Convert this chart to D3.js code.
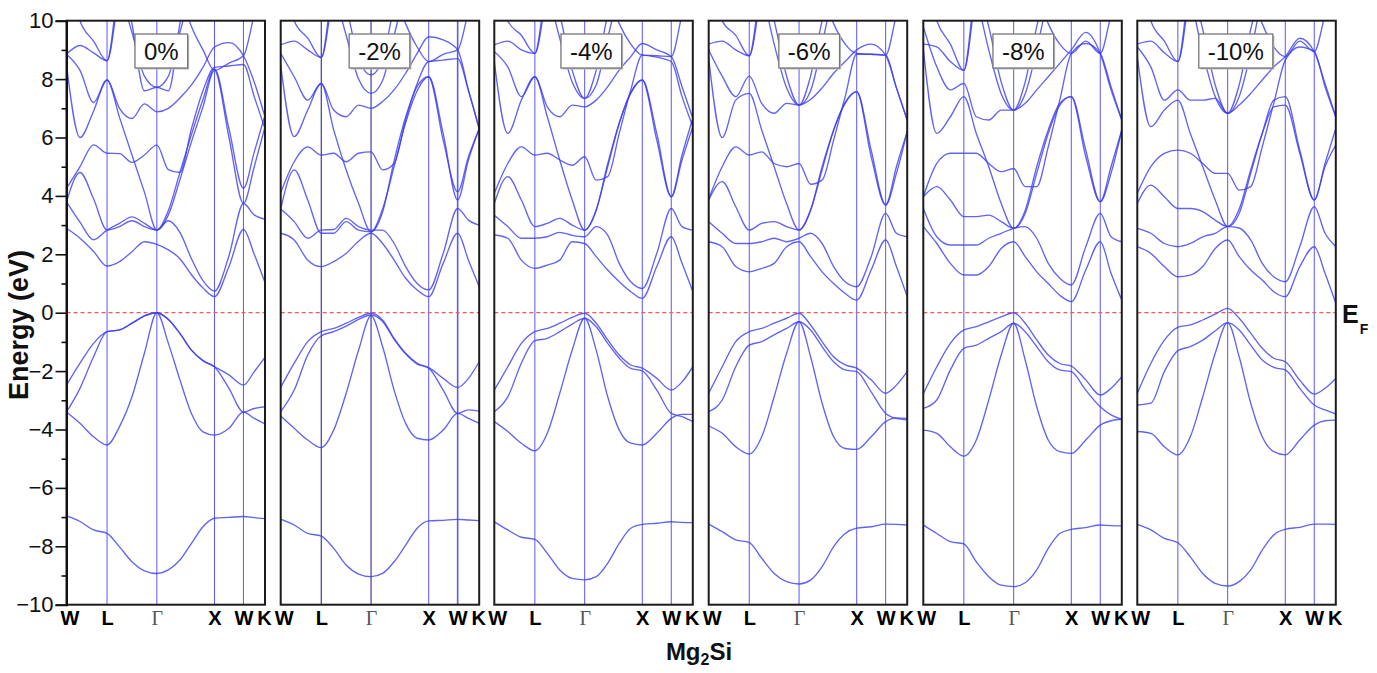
<!DOCTYPE html>
<html><head><meta charset="utf-8">
<script src="https://cdn.jsdelivr.net/npm/d3@7"></script>
<style>body{margin:0;background:#fff}svg{display:block}</style>
</head><body>
<svg id="c" width="1377" height="673"></svg>
<script>
// ---------------- DATA ----------------
const kTicks = [0, 0.70, 1.56, 2.555, 3.055, 3.427];
const kLabels = ["W", "L", "Γ", "X", "W", "K"];
const kGrid = [0, 0.233, 0.467, 0.70, 0.915, 1.13, 1.345, 1.56, 1.759, 1.958, 2.157, 2.356, 2.555, 2.805, 3.055, 3.241, 3.427];
const strainLabels = ["0%", "-2%", "-4%", "-6%", "-8%", "-10%"];
const yTicks = [-10, -8, -6, -4, -2, 0, 2, 4, 6, 8, 10];
const yMinorTicks = [-9, -7, -5, -3, -1, 1, 3, 5, 7, 9];

const bands0 = [
 [-6.96,-7.15,-7.44,-7.56,-8.02,-8.53,-8.84,-8.93,-8.81,-8.47,-7.9,-7.33,-7.04,-7.01,-6.98,-7.02,-7.05],
 [-3.4,-3.79,-4.25,-4.53,-3.9,-2.88,-1.39,0,-1.05,-2.3,-3.45,-4.08,-4.19,-3.96,-3.4,-3.62,-3.81],
 [-3.4,-2.59,-1.51,-0.65,-0.59,-0.36,-0.11,0,-0.23,-0.71,-1.28,-1.64,-1.85,-2.59,-3.4,-3.28,-3.22],
 [-2.48,-1.73,-1.05,-0.65,-0.59,-0.36,-0.11,0,-0.23,-0.71,-1.28,-1.64,-1.85,-2.13,-2.48,-2.02,-1.53],
 [2.89,2.55,2.1,1.6,1.75,2.09,2.43,2.34,2.15,1.85,1.3,0.85,0.55,1.58,2.85,2.0,1.03],
 [3.8,3.1,2.5,2.83,3.06,3.28,3.06,2.83,3.15,2.75,1.85,1.1,0.74,1.95,3.74,3.35,3.2],
 [3.8,4.8,3.9,2.83,2.95,3.15,2.95,2.83,3.35,4.55,5.85,7.05,8.3,6.0,3.74,5.0,6.37],
 [4.26,5.0,5.75,5.46,5.45,5.15,5.4,5.74,4.9,4.8,6.3,7.6,8.4,8.45,8.5,7.4,6.3],
 [8.48,6.0,6.9,7.97,6.69,5.4,4.13,2.83,3.5,4.8,6.1,7.3,8.35,6.3,4.26,5.5,6.77],
 [8.85,8.3,7.2,7.97,7.0,6.65,7.15,6.88,7.0,7.35,7.8,8.4,9.1,9.25,8.8,7.9,6.7],
 [14,14,13,12,11,9.6,8.1,7.72,8.1,9.6,11,12,13,13,13,13,13],
 [14,14,13,12,12,9.9,7.6,7.72,7.6,9.9,12,13,13,13,13,13,13],
 [8.85,9.15,8.9,8.63,11,12.5,14,14,14,14,14,14,14,14,14,14,14],
 [12,10.0,9.3,8.63,11.5,13,14,14,14,14,14,14,14,14,14,14,14],
 [14,14,14,14,14,14,14,13,12,11,9.8,9.0,8.3,8.55,8.8,10.2,11.5]
];
const bands2 = [
 [-7.07,-7.27,-7.56,-7.65,-8.07,-8.64,-8.95,-9.04,-8.93,-8.53,-7.96,-7.38,-7.13,-7.11,-7.08,-7.1,-7.12],
 [-3.54,-3.96,-4.36,-4.62,-4.02,-2.76,-1.28,-0.11,-1.16,-2.65,-3.79,-4.3,-4.36,-4.02,-3.45,-3.62,-3.79],
 [-3.39,-2.65,-1.45,-0.79,-0.65,-0.46,-0.23,-0.08,-0.3,-0.91,-1.41,-1.76,-1.9,-2.65,-3.45,-3.33,-3.37],
 [-2.56,-1.73,-0.99,-0.65,-0.54,-0.36,-0.16,-0.02,-0.25,-0.88,-1.39,-1.73,-1.88,-2.25,-2.56,-2.25,-1.68],
 [2.72,2.49,1.8,1.58,1.75,2.03,2.45,2.72,2.37,1.8,1.18,0.78,0.55,1.69,2.72,1.8,0.89],
 [3.55,3.12,2.55,2.83,2.85,3.23,2.95,2.83,2.83,2.37,1.58,1.0,0.78,2.03,3.57,3.17,3.0],
 [3.55,4.89,3.86,2.72,2.72,3.12,2.83,2.77,3.45,5.2,6.7,7.75,8.08,6.14,3.86,5.23,6.3],
 [4.11,5.17,5.68,5.4,5.46,5.17,5.46,5.51,4.89,5.11,6.6,7.85,8.6,8.65,8.7,7.6,6.3],
 [8.48,6.03,6.94,7.85,6.26,4.89,3.74,2.77,3.55,5.0,6.5,7.6,8.08,5.91,4.14,5.34,6.3],
 [8.88,8.08,7.28,7.85,6.94,6.71,7.11,7.0,7.23,7.63,8.2,8.88,9.45,9.34,9.0,7.63,6.3],
 [14,14,13,12,11,9.5,8.0,7.51,7.95,9.5,11,12,13,13,13,13,13],
 [14,14,13,12,12,10.5,8.7,8.15,8.7,10.5,12,13,13,13,13,13,13],
 [9.17,9.3,9.0,8.74,11,12.5,14,14,14,14,14,14,14,14,14,14,14],
 [12,10.0,9.4,8.74,11.5,13,14,14,14,14,14,14,14,14,14,14,14],
 [14,14,14,14,14,14,14,13,12,11,9.9,9.1,8.6,8.85,9.0,10.3,11.5]
];
const bands4 = [
 [-7.16,-7.44,-7.69,-7.76,-8.24,-8.81,-9.1,-9.15,-9.04,-8.58,-7.9,-7.38,-7.25,-7.21,-7.16,-7.18,-7.19],
 [-3.73,-4.07,-4.47,-4.73,-4.13,-2.76,-1.28,-0.19,-1.28,-2.88,-4.02,-4.47,-4.53,-4.13,-3.62,-3.48,-3.48],
 [-3.39,-2.88,-1.73,-0.96,-0.88,-0.65,-0.39,-0.19,-0.48,-1.05,-1.56,-1.91,-1.99,-2.65,-3.45,-3.56,-3.73],
 [-2.65,-1.85,-1.05,-0.65,-0.54,-0.36,-0.16,-0.02,-0.36,-0.93,-1.45,-1.79,-1.9,-2.25,-2.65,-2.37,-1.85],
 [2.66,2.55,1.8,1.52,1.63,1.8,2.43,2.37,1.92,1.46,1.06,0.72,0.49,1.58,2.6,1.69,0.72],
 [3.34,2.95,2.55,2.55,2.6,2.75,2.65,2.6,2.95,2.66,1.69,1.06,0.83,2.03,3.57,2.95,2.83],
 [3.74,4.66,3.86,2.95,3.06,3.23,3.0,2.83,3.5,5.1,6.5,7.55,7.97,5.91,3.97,5.23,6.37],
 [4.09,5.11,5.68,5.4,5.46,5.23,5.05,5.34,4.54,4.66,6.14,7.63,8.82,8.75,8.6,7.4,6.37],
 [8.6,6.14,7.28,8.08,6.71,5.23,3.86,2.83,3.52,5.0,6.48,7.51,7.97,6.14,3.97,5.4,6.66],
 [8.94,8.42,7.4,8.08,7.05,6.71,7.11,7.05,7.28,7.74,8.31,8.77,9.22,9.0,8.77,7.74,6.66],
 [14,14,13,12,11,9.4,7.9,7.34,7.8,9.4,11,12,13,13,13,13,13],
 [14,14,13,12,11.5,10.2,8.3,7.34,8.3,10.2,11.5,13,13,13,13,13,13],
 [9.17,9.3,9.0,8.88,11,12.5,14,14,14,14,14,14,14,14,14,14,14],
 [12,10.0,9.5,8.88,11.5,13,14,14,14,14,14,14,14,14,14,14,14],
 [14,14,14,14,14,14,14,13,12,11,9.9,9.2,8.82,8.8,8.77,10.2,11.5]
];
const bands6 = [
 [-7.24,-7.5,-7.78,-7.87,-8.41,-8.93,-9.21,-9.29,-9.16,-8.7,-8.01,-7.56,-7.38,-7.33,-7.24,-7.25,-7.27],
 [-3.88,-4.13,-4.59,-4.84,-4.25,-2.88,-1.39,-0.31,-1.51,-3.1,-4.25,-4.65,-4.68,-4.25,-3.73,-3.6,-3.62],
 [-3.39,-2.99,-1.85,-1.11,-0.99,-0.76,-0.54,-0.31,-0.59,-1.16,-1.68,-1.96,-2.02,-2.71,-3.45,-3.62,-3.67],
 [-2.76,-1.85,-0.99,-0.65,-0.54,-0.36,-0.19,-0.02,-0.42,-0.99,-1.51,-1.79,-1.9,-2.3,-2.76,-2.48,-2.02],
 [2.43,2.26,1.58,1.4,1.52,1.69,2.26,2.43,1.92,1.4,1.0,0.66,0.43,1.46,2.49,1.58,0.55],
 [3.12,2.72,2.37,2.37,2.43,2.55,2.43,2.55,2.72,2.37,1.58,1.06,0.89,1.92,3.4,2.72,2.6],
 [3.86,4.49,3.63,2.83,3.06,3.12,2.95,2.83,3.5,5.0,6.25,7.2,7.57,5.57,3.69,5.0,6.2],
 [3.9,5.0,5.68,5.4,5.51,5.11,5.0,5.11,4.4,4.54,5.91,7.4,8.85,8.85,8.82,7.7,6.6],
 [8.71,6.0,7.28,7.51,6.26,5.0,3.74,2.83,3.52,4.89,6.26,7.17,7.57,5.34,3.69,4.77,6.2],
 [9.0,8.1,7.4,8.1,7.17,6.83,7.17,7.11,7.3,7.7,8.2,8.6,9.0,9.2,8.82,7.7,6.6],
 [14,14,13,12,11,9.2,7.7,7.11,7.6,9.2,11,12,13,13,13,13,13],
 [14,14,13,12,11.5,10,8.1,7.11,8.1,10,11.5,13,13,13,13,13,13],
 [9.2,9.3,9.0,8.8,11,12.5,14,14,14,14,14,14,14,14,14,14,14],
 [12,10.0,9.5,8.8,11.5,13,14,14,14,14,14,14,14,14,14,14,14],
 [14,14,14,14,14,14,14,13,12,11,9.9,9.2,8.88,8.85,8.82,10.2,11.5]
];
const bands8 = [
 [-7.27,-7.56,-7.84,-7.92,-8.53,-9.04,-9.33,-9.38,-9.25,-8.81,-8.07,-7.56,-7.42,-7.36,-7.27,-7.29,-7.3],
 [-4.02,-4.13,-4.59,-4.91,-4.36,-2.99,-1.45,-0.36,-1.62,-3.22,-4.36,-4.76,-4.82,-4.36,-3.85,-3.7,-3.65],
 [-3.28,-2.99,-1.96,-1.22,-1.11,-0.88,-0.65,-0.36,-0.65,-1.16,-1.68,-1.96,-2.02,-2.65,-3.22,-3.5,-3.65],
 [-2.78,-1.85,-1.05,-0.59,-0.48,-0.31,-0.14,0,-0.36,-0.93,-1.45,-1.74,-1.83,-2.3,-2.82,-2.59,-2.19],
 [2.95,2.37,1.69,1.29,1.29,1.58,2.2,2.43,1.92,1.4,1.0,0.6,0.38,1.46,2.43,1.35,0.43],
 [3.57,2.6,2.32,2.32,2.32,2.55,2.72,2.89,2.95,2.55,1.69,1.18,0.95,2.26,3.4,2.6,2.43],
 [3.97,4.32,3.86,3.29,3.29,3.34,3.12,2.89,3.5,5.0,6.26,7.17,7.4,5.57,3.8,5.0,6.26],
 [3.97,5.11,5.46,5.46,5.46,5.11,4.83,4.94,4.32,4.32,5.68,7.28,8.88,9.22,8.88,7.74,6.6],
 [9.05,6.14,6.71,7.4,6.14,5.0,3.74,2.89,3.4,4.77,6.14,7.1,7.4,5.34,3.8,4.77,6.26],
 [9.8,8.42,7.63,7.85,6.71,6.6,6.94,6.94,7.17,7.63,8.08,8.54,9.0,9.6,8.88,7.63,6.6],
 [14,14,13,12,10.8,9.0,7.5,6.94,7.5,9.0,10.8,12,13,13,13,13,13],
 [14,14,13,12,11.3,9.8,7.9,6.94,7.9,9.8,11.3,13,13,13,13,13,13],
 [9.2,9.1,8.6,8.3,11,12.5,14,14,14,14,14,14,14,14,14,14,14],
 [12,10.0,9.2,8.3,11.5,13,14,14,14,14,14,14,14,14,14,14,14],
 [14,14,14,14,14,14,14,13,12,11,9.9,9.2,8.88,9.3,8.88,10.2,11.5]
];
const bands10 = [
 [-7.25,-7.44,-7.73,-7.88,-8.36,-8.93,-9.27,-9.36,-9.21,-8.81,-8.13,-7.61,-7.42,-7.35,-7.24,-7.24,-7.25],
 [-4.07,-4.13,-4.59,-4.87,-4.25,-2.88,-1.39,-0.34,-1.51,-3.1,-4.25,-4.76,-4.87,-4.36,-3.85,-3.7,-3.68],
 [-3.16,-3.1,-2.02,-1.3,-1.16,-0.94,-0.62,-0.34,-0.59,-1.11,-1.62,-1.87,-1.96,-2.59,-3.16,-3.33,-3.47],
 [-2.76,-1.74,-0.94,-0.5,-0.42,-0.25,-0.05,0.15,-0.19,-0.7,-1.22,-1.56,-1.68,-2.31,-2.79,-2.59,-2.25],
 [2.26,2.03,1.58,1.23,1.29,1.58,2.2,2.49,1.92,1.46,1.12,0.72,0.55,1.58,2.26,1.35,0.32],
 [2.89,2.72,2.37,2.26,2.37,2.6,2.72,2.95,2.9,2.49,1.69,1.23,1.06,2.26,3.63,2.72,2.26],
 [3.74,4.37,3.97,3.57,3.57,3.46,3.17,2.95,3.55,4.89,6.14,7.05,7.11,5.46,3.86,5.11,6.31],
 [4.09,5.0,5.46,5.57,5.46,5.11,4.77,4.77,4.2,4.32,5.68,7.17,8.65,9.1,8.94,7.74,6.71],
 [8.77,6.37,6.94,7.28,6.14,5.0,3.86,2.95,3.4,4.77,6.14,7.28,7.4,5.57,3.86,5.0,5.74],
 [9.11,8.42,7.28,7.63,7.28,7.28,7.34,6.83,7.11,7.51,7.97,8.42,8.77,9.4,8.94,7.85,6.71],
 [14,14,13,12,10.8,8.9,7.4,6.83,7.4,8.9,10.8,12,13,13,13,13,13],
 [14,14,13,12,11.3,9.7,7.8,6.83,7.8,9.7,11.3,13,13,13,13,13,13],
 [9.2,9.3,8.9,8.6,11,12.5,14,14,14,14,14,14,14,14,14,14,14],
 [12,10.0,9.3,8.6,11.5,13,14,14,14,14,14,14,14,14,14,14,14],
 [14,14,14,14,14,14,14,13,12,11,9.9,9.1,8.77,9.3,8.94,10.2,11.5]
];
const panelBands = [bands0, bands2, bands4, bands6, bands8, bands10];

// ---------------- LAYOUT ----------------
const panelLeft = [66.5, 280.7, 494.3, 708.7, 923.3, 1137.3];
const panelW = 198.5;
const plotTop = 20.7, plotBottom = 604.7;
const boxCenter = [94.8, 98.8, 97, 100.5, 100, 98.5];
const FONT = "Arial, 'Liberation Sans', Helvetica, sans-serif";

const svg = d3.select("#c");
svg.append("rect").attr("width", 1377).attr("height", 673).attr("fill", "#fff");
const y = d3.scaleLinear().domain([-10, 10]).range([plotBottom, plotTop]);
const defs = svg.append("defs");

panelBands.forEach((bands, p) => {
  const left = panelLeft[p];
  const x = d3.scaleLinear().domain([0, 3.427]).range([left, left + panelW]);
  const g = svg.append("g");
  const cid = "clip" + p;
  defs.append("clipPath").attr("id", cid).append("rect")
    .attr("x", left).attr("y", plotTop).attr("width", panelW).attr("height", plotBottom - plotTop);

  // high-symmetry vertical lines
  g.append("g").selectAll("line").data(kTicks.slice(1, -1)).join("line")
    .attr("x1", d => x(d)).attr("x2", d => x(d)).attr("y1", plotTop).attr("y2", plotBottom)
    .attr("stroke", (d, i) => (p === 1 && i < 2) ? "#14148c" : "#5858ff")
    .attr("stroke-width", (d, i) => (p === 1 && i === 3) ? 1.6 : 1);

  // Fermi level
  g.append("line").attr("x1", left).attr("x2", left + panelW)
    .attr("y1", y(0)).attr("y2", y(0))
    .attr("stroke", "#ff5555").attr("stroke-width", 1.2).attr("stroke-dasharray", "4,3");

  // bands
  const line = d3.line().x((d, i) => x(kGrid[i])).y(d => y(d)).curve(d3.curveMonotoneX);
  g.append("g").attr("clip-path", `url(#${cid})`)
    .selectAll("path").data(bands).join("path")
    .attr("d", line).attr("fill", "none")
    .attr("stroke", "#3c3cf0").attr("stroke-width", 1.35).attr("stroke-opacity", 0.8);

  // frame
  g.append("rect").attr("x", left).attr("y", plotTop).attr("width", panelW).attr("height", plotBottom - plotTop)
    .attr("fill", "none").attr("stroke", "#1c1c1c").attr("stroke-width", 2);

  // x labels
  const xa = g.append("g").attr("transform", `translate(0,${plotBottom})`)
    .call(d3.axisBottom(x).tickValues(kTicks).tickSize(0).tickPadding(6).tickFormat((d, i) => kLabels[i]));
  xa.select(".domain").remove();
  xa.selectAll("text").each(function (d, i) {
    const t = d3.select(this);
    t.attr("fill", "#000");
    if (kLabels[i] === "Γ") {
      t.style("font-family", "'Liberation Serif', 'Times New Roman', serif")
       .style("font-size", "20px").style("font-weight", "normal").attr("fill", "#555");
    } else {
      t.style("font-family", FONT).style("font-size", "20px").style("font-weight", "bold");
    }
    if (i === 0) t.attr("dx", 3);
    if (i === kTicks.length - 1) t.attr("dx", -1);
  });

  // strain label box
  const cx = left + boxCenter[p];
  const boxG = g.append("g");
  const shadow = boxG.append("rect");
  const box = boxG.append("rect");
  const lab = boxG.append("text").attr("x", cx).attr("y", 59.5).attr("text-anchor", "middle")
    .style("font-family", FONT).style("font-size", "24px").attr("fill", "#111").text(strainLabels[p]);
  const bw = lab.node().getBBox().width + 18;
  shadow.attr("x", cx - bw / 2 + 1.5).attr("y", 35.5).attr("width", bw).attr("height", 34).attr("fill", "#bbb");
  box.attr("x", cx - bw / 2).attr("y", 34).attr("width", bw).attr("height", 34)
    .attr("fill", "#fff").attr("stroke", "#777").attr("stroke-width", 1.3);
});

// y axis (panel 1)
const ya = svg.append("g").attr("transform", `translate(${panelLeft[0]},0)`)
  .call(d3.axisLeft(y).tickValues(yTicks).tickSize(11).tickPadding(2).tickFormat(d3.format("d")));
ya.select(".domain").attr("stroke", "#111").attr("stroke-width", 2);
ya.selectAll(".tick line").attr("stroke", "#111").attr("stroke-width", 1.6);
ya.selectAll("text").style("font-family", FONT).style("font-size", "22px").attr("fill", "#111");
const ym = svg.append("g").attr("transform", `translate(${panelLeft[0]},0)`)
  .call(d3.axisLeft(y).tickValues(yMinorTicks).tickSize(5).tickFormat(""));
ym.select(".domain").remove();
ym.selectAll(".tick line").attr("stroke", "#111").attr("stroke-width", 1.6);

// axis titles
svg.append("text").attr("transform", "translate(28,325) rotate(-90)").attr("text-anchor", "middle")
  .style("font-family", FONT).style("font-size", "27px").style("font-weight", "bold").attr("fill", "#111")
  .text("Energy (eV)");

const mt = svg.append("text").attr("x", 699).attr("y", 660).attr("text-anchor", "middle")
  .style("font-family", FONT).style("font-weight", "bold").attr("fill", "#111");
mt.append("tspan").style("font-size", "24px").text("Mg");
mt.append("tspan").style("font-size", "16px").attr("dy", 5).text("2");
mt.append("tspan").style("font-size", "24px").attr("dy", -5).text("Si");

const ef = svg.append("text").attr("x", 1342).attr("y", 323)
  .style("font-family", FONT).style("font-weight", "bold").attr("fill", "#111");
ef.append("tspan").style("font-size", "25px").text("E");
ef.append("tspan").style("font-size", "14px").attr("dy", 11).attr("dx", 1).text("F");
</script>
</body></html>
